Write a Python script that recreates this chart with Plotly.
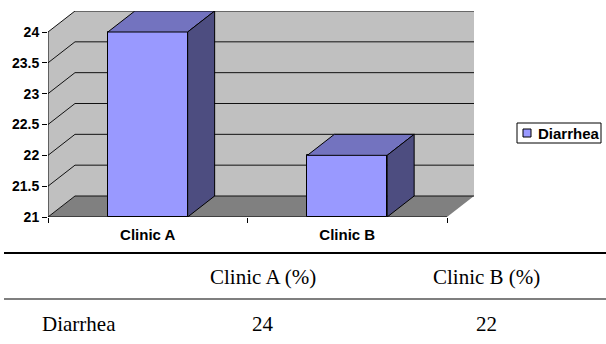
import plotly.graph_objects as go

# Data
categories = ["Clinic A", "Clinic B"]
diarrhea = [24, 22]
series_name = "Diarrhea"
y_ticks = [21, 21.5, 22, 22.5, 23, 23.5, 24]
table_header = ["Clinic A (%)", "Clinic B (%)"]

# Geometry of the pseudo-3D column chart (axis units)
Y_BASE = 21.0
Y_TOP = 24.0
BAR_W = 0.4
DX = 0.1353          # depth offset along x
DY = 0.3405          # depth offset along y
X_RANGE = [0, 2 + DX + 0.005]
Y_RANGE = [Y_BASE, Y_TOP + DY]

W, H = 606, 344
M_L, M_R, M_T, M_B = 48, 131, 11, 127
PLOT_H = H - M_T - M_B
PLOT_W = W - M_L - M_R

FRONT = "#9999FF"
TOP = "#7373BF"
SIDE = "#4D4D80"


def py(p):
    """Pixel row -> paper y."""
    return (H - M_B - p) / PLOT_H


def px(p):
    """Pixel column -> paper x."""
    return (p - M_L) / PLOT_W


n = len(categories)
centers = [i + 0.5 for i in range(n)]

fig = go.Figure()

shapes = []
# walls (left + back) and floor
shapes.append(dict(type="path", layer="below", xref="x", yref="y",
                   path=f"M 0,{Y_BASE} L 0,{Y_TOP} L {DX},{Y_TOP+DY} L {n+DX},{Y_TOP+DY} "
                        f"L {n+DX},{Y_BASE+DY} L {DX},{Y_BASE+DY} Z",
                   fillcolor="#C0C0C0", line=dict(width=0)))
shapes.append(dict(type="path", layer="below", xref="x", yref="y",
                   path=f"M 0,{Y_BASE} L {DX},{Y_BASE+DY} L {n+DX},{Y_BASE+DY} L {n},{Y_BASE} Z",
                   fillcolor="#808080", line=dict(width=0)))
# gridlines on the left and back walls
for v in y_ticks:
    shapes.append(dict(type="path", layer="below", xref="x", yref="y",
                       path=f"M 0,{v} L {DX},{v+DY} L {n+DX},{v+DY}",
                       line=dict(color="#111111", width=1)))
# front value axis and category axis
shapes.append(dict(type="line", layer="below", xref="x", yref="y",
                   x0=0, x1=0, y0=Y_BASE, y1=Y_TOP, line=dict(color="black", width=1)))
shapes.append(dict(type="line", layer="below", xref="x", yref="y",
                   x0=0, x1=n, y0=Y_BASE, y1=Y_BASE, line=dict(color="black", width=1)))

# table rules
shapes.append(dict(type="line", xref="paper", yref="paper", x0=px(4), x1=px(606),
                   y0=py(253), y1=py(253), line=dict(color="black", width=2.2)))
shapes.append(dict(type="line", xref="paper", yref="paper", x0=px(4), x1=px(606),
                   y0=py(299), y1=py(299), line=dict(color="black", width=1.2)))

# legend box with swatch
shapes.append(dict(type="rect", xref="paper", yref="paper", x0=px(517), x1=px(601),
                   y0=py(143), y1=py(123), line=dict(color="black", width=1),
                   fillcolor="white"))
shapes.append(dict(type="rect", xref="paper", yref="paper", x0=px(523), x1=px(531),
                   y0=py(137), y1=py(129), line=dict(color="black", width=1),
                   fillcolor=FRONT))

# front faces of the columns
fig.add_trace(go.Bar(
    x=centers, y=[v - Y_BASE for v in diarrhea], base=Y_BASE, width=BAR_W,
    name=series_name, marker=dict(color=FRONT, line=dict(color="black", width=1)),
    hoverinfo="skip", showlegend=False))

# top and side faces of the columns
for c, v in zip(centers, diarrhea):
    l, r = c - BAR_W / 2, c + BAR_W / 2
    fig.add_trace(go.Scatter(
        x=[l, l + DX, r + DX, r, l], y=[v, v + DY, v + DY, v, v],
        mode="lines", fill="toself", fillcolor=TOP,
        line=dict(color="black", width=1), showlegend=False, hoverinfo="skip"))
    fig.add_trace(go.Scatter(
        x=[r, r + DX, r + DX, r, r], y=[v, v + DY, Y_BASE + DY, Y_BASE, v],
        mode="lines", fill="toself", fillcolor=SIDE,
        line=dict(color="black", width=1), showlegend=False, hoverinfo="skip"))

bold14 = dict(family="Liberation Sans, Arial, sans-serif", size=14, color="black", weight="bold")
bold15 = dict(family="Liberation Sans, Arial, sans-serif", size=15, color="black", weight="bold")
serif = dict(family="Liberation Serif, Times New Roman, serif", size=21, color="black")

annotations = [dict(xref="paper", yref="paper", x=px(536), y=py(133), text=series_name,
                    showarrow=False, font=bold15, xanchor="left", yanchor="middle")]

# table text
col_x = [263, 486]
for hx, txt in zip(col_x, table_header):
    annotations.append(dict(xref="paper", yref="paper", x=px(hx), y=py(277), text=txt,
                            showarrow=False, font=serif, xanchor="center", yanchor="middle"))
annotations.append(dict(xref="paper", yref="paper", x=px(40), y=py(324), text=series_name,
                        showarrow=False, font=serif, xanchor="left", yanchor="middle"))
for hx, v in zip(col_x, diarrhea):
    annotations.append(dict(xref="paper", yref="paper", x=px(hx), y=py(324), text=f"{v:g}",
                            showarrow=False, font=serif, xanchor="center", yanchor="middle"))

fig.update_layout(
    width=W, height=H,
    margin=dict(l=M_L, r=M_R, t=M_T, b=M_B),
    paper_bgcolor="white", plot_bgcolor="white",
    shapes=shapes, annotations=annotations,
    showlegend=False,
    xaxis=dict(range=X_RANGE, tickvals=centers, ticktext=categories, ticks="",
               showgrid=False, zeroline=False, showline=False, tickfont=bold15,
               ticklabelstandoff=7, fixedrange=True, automargin=False),
    xaxis2=dict(range=X_RANGE, overlaying="x", anchor="y", side="bottom",
                tickvals=list(range(n + 1)), ticks="outside", ticklen=5, tickcolor="black",
                showticklabels=False, showgrid=False, zeroline=False, showline=False,
                automargin=False),
    yaxis=dict(range=Y_RANGE, tickvals=y_ticks, ticktext=[f"{t:g}" for t in y_ticks],
               ticks="outside", ticklen=5, tickcolor="black", showgrid=False,
               zeroline=False, showline=False, tickfont=bold14, fixedrange=True,
               automargin=False),
    bargap=0,
)

# invisible trace so the xaxis2 tick marks render
fig.add_trace(go.Scatter(x=[0], y=[Y_BASE], xaxis="x2", mode="markers",
                         marker=dict(opacity=0), showlegend=False, hoverinfo="skip"))

fig.write_html("out.html")
